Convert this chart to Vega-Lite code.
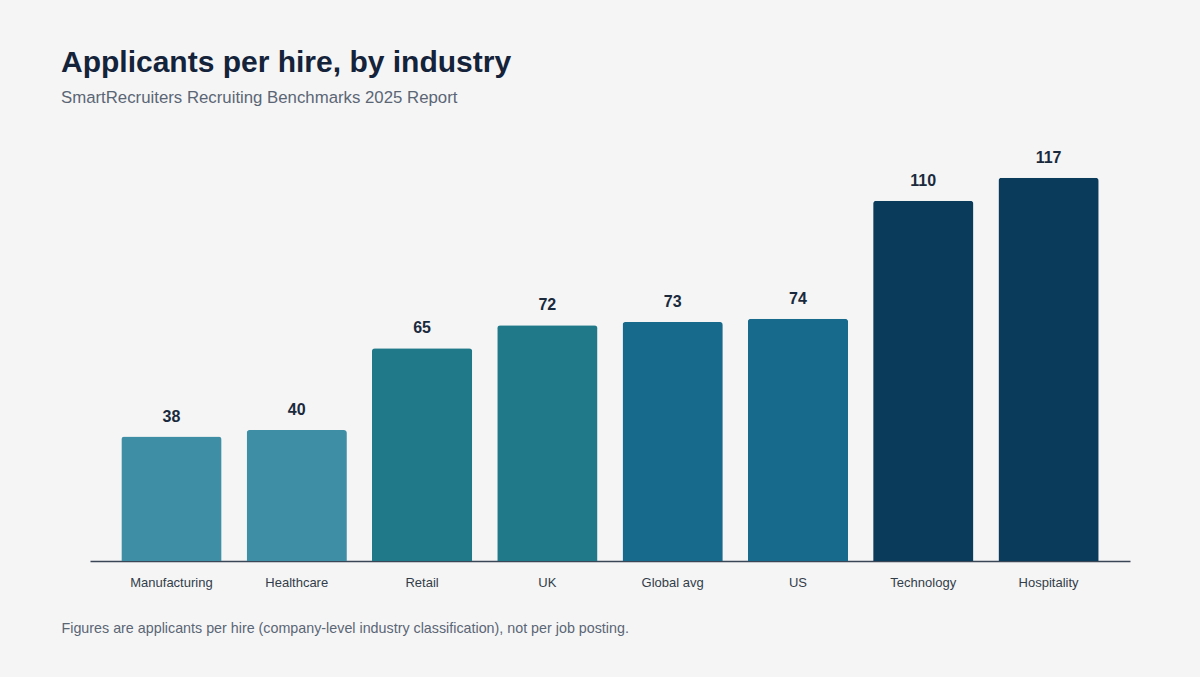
{
  "$schema": "https://vega.github.io/schema/vega-lite/v6.json",
  "autosize": "none",
  "width": 1040,
  "height": 393,
  "padding": {"left": 90, "top": 168, "right": 70, "bottom": 116},
  "background": "#f5f5f5",
  "config": {
    "font": "Liberation Sans",
    "view": {"stroke": null}
  },
  "title": {
    "text": "Applicants per hire, by industry",
    "subtitle": "SmartRecruiters Recruiting Benchmarks 2025 Report",
    "anchor": "start",
    "frame": "group",
    "dx": -29,
    "offset": 43,
    "font": "Liberation Sans",
    "fontSize": 30,
    "fontWeight": "bold",
    "color": "#14233a",
    "subtitleFont": "Liberation Sans",
    "subtitleFontSize": 16.8,
    "subtitleColor": "#5b6675",
    "subtitlePadding": 12
  },
  "data": {
    "values": [
      {"industry": "Manufacturing", "applicants": 38, "tier": "low"},
      {"industry": "Healthcare", "applicants": 40, "tier": "low"},
      {"industry": "Retail", "applicants": 65, "tier": "mid"},
      {"industry": "UK", "applicants": 72, "tier": "mid"},
      {"industry": "Global avg", "applicants": 73, "tier": "avg"},
      {"industry": "US", "applicants": 74, "tier": "avg"},
      {"industry": "Technology", "applicants": 110, "tier": "high"},
      {"industry": "Hospitality", "applicants": 117, "tier": "high"}
    ]
  },
  "encoding": {
    "x": {
      "field": "industry",
      "type": "nominal",
      "sort": null,
      "scale": {"paddingInner": 0.2, "paddingOuter": 0.25},
      "axis": {
        "title": "Figures are applicants per hire (company-level industry classification), not per job posting.",
        "titleFont": "Liberation Sans",
        "titleFontSize": 14.3,
        "titleFontWeight": "normal",
        "titleColor": "#5b6675",
        "titleAnchor": "start",
        "titleAlign": "left",
        "titleBaseline": "alphabetic",
        "titleX": -29,
        "titleY": 71,
        "labelAngle": 0,
        "labelFontSize": 13,
        "labelColor": "#333d4a",
        "labelPadding": 15,
        "ticks": false,
        "domainColor": "#3a4556",
        "domainWidth": 1.5
      }
    },
    "y": {
      "field": "applicants",
      "type": "quantitative",
      "scale": {"domain": [0, 120], "nice": false},
      "axis": null
    }
  },
  "layer": [
    {
      "mark": {"type": "bar", "cornerRadiusTopLeft": 3, "cornerRadiusTopRight": 3},
      "encoding": {
        "color": {
          "field": "tier",
          "type": "nominal",
          "scale": {
            "domain": ["low", "mid", "avg", "high"],
            "range": ["#3e8ea6", "#207989", "#176a8b", "#0b3b5b"]
          },
          "legend": null
        }
      }
    },
    {
      "mark": {
        "type": "text",
        "baseline": "alphabetic",
        "dy": -15,
        "font": "Liberation Sans",
        "fontSize": 16,
        "fontWeight": "bold",
        "color": "#1a2a3c"
      },
      "encoding": {
        "text": {"field": "applicants", "type": "quantitative"}
      }
    }
  ]
}
